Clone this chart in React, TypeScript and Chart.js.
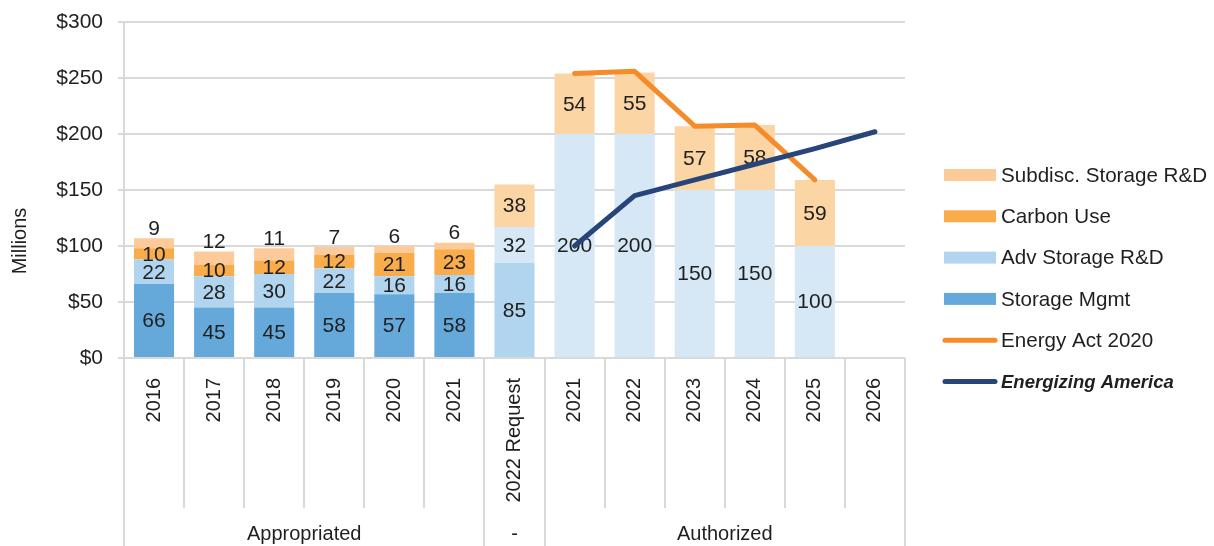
import React, { useEffect, useRef } from 'react';
import { Chart, registerables } from 'chart.js';

Chart.register(...registerables);

const categories = ['2016', '2017', '2018', '2019', '2020', '2021', '2022 Request', '2021', '2022', '2023', '2024', '2025', '2026'];
const groupLabels = ['Appropriated', '-', 'Authorized'];
const groupSpans = [6, 1, 6];

const storageMgmt = [66, 45, 45, 58, 57, 58, 85, null, null, null, null, null, null];
const advStorage = [22, 28, 30, 22, 16, 16, 32, 200, 200, 150, 150, 100, null];
const carbonUse = [10, 10, 12, 12, 21, 23, null, null, null, null, null, null, null];
const subdisc = [9, 12, 11, 7, 6, 6, 38, 54, 55, 57, 58, 59, null];
const energyAct = [null, null, null, null, null, null, null, 254, 256, 207, 208, 159, null];
const energizingAmerica = [null, null, null, null, null, null, null, 100, 145, 159, 173, 187, 202];

const yTicks = [0, 50, 100, 150, 200, 250, 300];

const FONT = "'Liberation Sans', Arial, sans-serif";
const TEXT = '#1f1f1f';
const GRID = '#d9d9d9';

const C_STORAGE = '#65A9DA';
const C_ADV = '#B1D5EE';
const C_ADV_LIGHT = '#D6E8F5';
const C_CARBON = '#F9AC4B';
const C_SUB = '#FCCB99';
const C_SUB2 = '#FBD5A3';
const C_ACT = '#F68B2A';
const C_EA = '#27457B';

export default function App() {
  const ref = useRef<HTMLCanvasElement>(null);

  useEffect(() => {
    const canvas = ref.current!;

    const labelPlugin = {
      id: 'segLabels',
      afterDatasetDraw(chart: any, args: any) {
        if (args.index !== 2) return;
        const ctx = chart.ctx;
        ctx.save();
        ctx.font = `21px ${FONT}`;
        ctx.fillStyle = TEXT;
        ctx.textAlign = 'center';
        ctx.textBaseline = 'middle';
        for (let d = 2; d <= 5; d++) {
          const meta = chart.getDatasetMeta(d);
          const data = chart.data.datasets[d].data;
          meta.data.forEach((el: any, i: number) => {
            const v = data[i];
            if (v == null) return;
            let y = (el.y + el.base) / 2;
            if (d === 5 && v < 15) y = el.y - 10;
            ctx.fillText(String(v), el.x, y + 1);
          });
        }
        ctx.restore();
      },
    };

    const decorPlugin = {
      id: 'decor',
      afterDraw(chart: any) {
        const ctx = chart.ctx;
        const a = chart.chartArea;
        const n = categories.length;
        const w = (a.right - a.left) / n;
        const H = chart.height;
        ctx.save();
        ctx.strokeStyle = GRID;
        ctx.lineWidth = 2;
        ctx.beginPath();
        ctx.moveTo(a.left, a.top);
        ctx.lineTo(a.left, H);
        ctx.stroke();
        const groupBounds = new Set<number>();
        let acc = 0;
        groupBounds.add(0);
        groupSpans.forEach((s) => { acc += s; groupBounds.add(acc); });
        for (let i = 1; i <= n; i++) {
          const x = Math.round(a.left + i * w);
          ctx.beginPath();
          ctx.moveTo(x, a.bottom);
          ctx.lineTo(x, groupBounds.has(i) ? H : a.bottom + 150);
          ctx.stroke();
        }
        ctx.font = `20px ${FONT}`;
        ctx.fillStyle = TEXT;
        ctx.textAlign = 'center';
        ctx.textBaseline = 'middle';
        acc = 0;
        groupSpans.forEach((s, gi) => {
          const cx = a.left + (acc + s / 2) * w;
          ctx.fillText(groupLabels[gi], cx, 534);
          acc += s;
        });
        ctx.save();
        ctx.translate(20, 241);
        ctx.rotate(-Math.PI / 2);
        ctx.fillText('Millions', 0, 0);
        ctx.restore();

        const items = [
          { label: 'Subdisc. Storage R&D', color: C_SUB, line: false },
          { label: 'Carbon Use', color: C_CARBON, line: false },
          { label: 'Adv Storage R&D', color: C_ADV, line: false },
          { label: 'Storage Mgmt', color: C_STORAGE, line: false },
          { label: 'Energy Act 2020', color: C_ACT, line: true },
          { label: 'Energizing America', color: C_EA, line: true, bold: true },
        ];
        const bx = a.right + 39;
        items.forEach((it: any, k: number) => {
          const cy = 175 + k * 41.3;
          if (it.line) {
            ctx.strokeStyle = it.color;
            ctx.lineWidth = 5;
            ctx.lineCap = 'round';
            ctx.beginPath();
            ctx.moveTo(bx + 1, cy);
            ctx.lineTo(bx + 51, cy);
            ctx.stroke();
          } else {
            ctx.fillStyle = it.color;
            ctx.fillRect(bx, cy - 6, 52, 12);
          }
          ctx.fillStyle = TEXT;
          ctx.textAlign = 'left';
          ctx.font = it.bold ? `italic bold 18.5px ${FONT}` : `20.6px ${FONT}`;
          ctx.fillText(it.label, bx + 57, cy + 1);
        });
        ctx.restore();
      },
    };

    const chart = new Chart(canvas, {
      type: 'bar',
      data: {
        labels: categories,
        datasets: [
          {
            type: 'line', label: 'Energizing America', data: energizingAmerica as any,
            borderColor: C_EA, borderWidth: 5, pointRadius: 0, borderCapStyle: 'round',
            borderJoinStyle: 'round', stack: 'l1',
          } as any,
          {
            type: 'line', label: 'Energy Act 2020', data: energyAct as any,
            borderColor: C_ACT, borderWidth: 5, pointRadius: 0, borderCapStyle: 'round',
            borderJoinStyle: 'round', stack: 'l2',
          } as any,
          {
            label: 'Storage Mgmt', data: storageMgmt as any, stack: 'bars',
            backgroundColor: storageMgmt.map((_, i) => (i < 6 ? C_STORAGE : C_ADV)),
          },
          {
            label: 'Adv Storage R&D', data: advStorage as any, stack: 'bars',
            backgroundColor: advStorage.map((_, i) => (i < 6 ? C_ADV : C_ADV_LIGHT)),
          },
          {
            label: 'Carbon Use', data: carbonUse as any, stack: 'bars',
            backgroundColor: C_CARBON,
          },
          {
            label: 'Subdisc. Storage R&D', data: subdisc as any, stack: 'bars',
            backgroundColor: subdisc.map((_, i) => (i < 6 ? C_SUB : C_SUB2)),
          },
        ],
      },
      options: {
        responsive: false,
        animation: false,
        layout: { padding: { top: 22, right: 309, left: 0, bottom: 0 } },
        datasets: { bar: { categoryPercentage: 1, barPercentage: 0.667 } },
        plugins: { legend: { display: false }, tooltip: { enabled: false } },
        scales: {
          x: {
            stacked: true,
            grid: { display: false, drawTicks: false },
            border: { display: false },
            ticks: {
              autoSkip: false, minRotation: 90, maxRotation: 90, padding: 20,
              color: TEXT, font: { family: FONT, size: 20, lineHeight: 0.2 },
            },
            afterFit(scale: any) { scale.height = 188; },
          },
          y: {
            stacked: true,
            min: 0, max: 300,
            afterBuildTicks(scale: any) { scale.ticks = yTicks.map((v) => ({ value: v })); },
            grid: { color: GRID, lineWidth: 2, tickLength: 6 },
            border: { display: false },
            ticks: {
              padding: 15, color: TEXT, font: { family: FONT, size: 21, lineHeight: 0.2 },
              callback: (v: any) => `$${v}`,
            },
            afterFit(scale: any) { scale.width = 124; },
          },
        },
      },
      plugins: [labelPlugin, decorPlugin],
    });
    return () => chart.destroy();
  }, []);

  return (
    <div style={{ position: 'fixed', left: 0, top: 0, width: 1214, height: 546, background: '#fff' }}>
      <canvas ref={ref} width={1214} height={546} style={{ display: 'block' }} />
    </div>
  );
}
